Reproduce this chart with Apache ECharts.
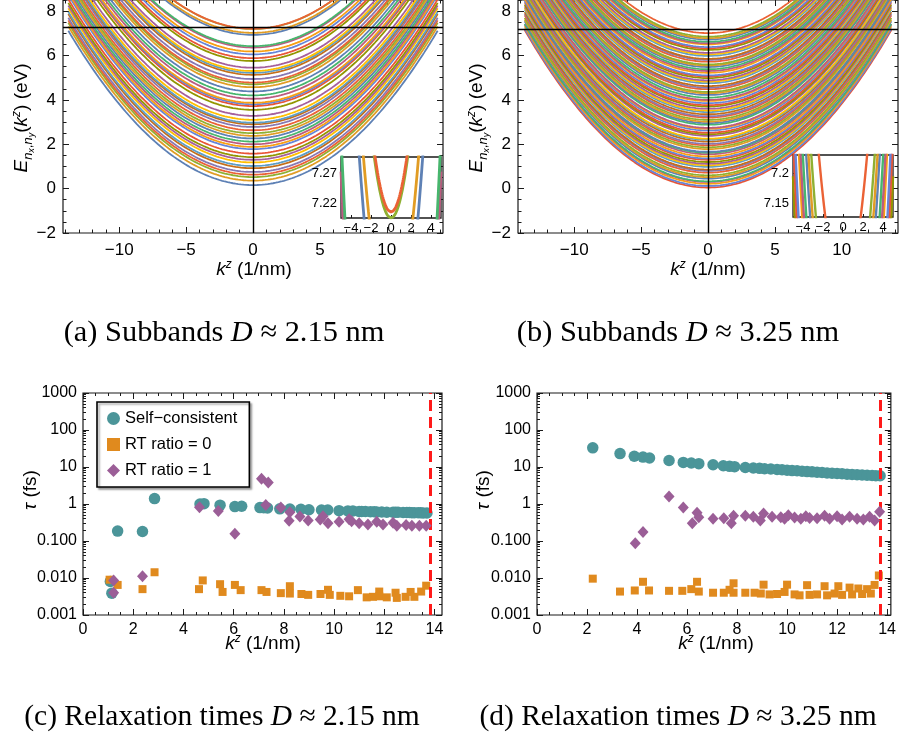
<!DOCTYPE html>
<html>
<head>
<meta charset="utf-8">
<script src="https://cdn.jsdelivr.net/npm/echarts@6/dist/echarts.min.js"></script>
<style>
  html, body { margin: 0; padding: 0; background: #fff; }
  #chart { width: 899px; height: 740px; }
</style>
</head>
<body>
<div id="chart"></div>
<script>
// ---------- subband data (panels a, b) ----------
// band minima E(k=0) in eV
const bandMinA = [0.16, 0.36, 0.52, 0.63, 0.75, 0.92, 1.02, 1.18, 1.30, 1.42, 1.58, 1.78, 1.88, 2.00,
  2.12, 2.26, 2.38, 2.50, 2.63, 2.78, 2.90, 2.97, 3.10, 3.28, 3.55, 3.72, 3.80, 3.87, 4.05, 4.20,
  4.38, 4.57, 4.70, 4.78, 4.94, 5.13, 5.22, 5.30, 5.45, 5.75, 5.88, 6.05, 6.18, 6.36, 6.42, 6.93,
  7.02, 7.195, 7.205];
const bandMinB = [0.05, 0.12, 0.22, 0.30, 0.33, 0.45, 0.52, 0.60, 0.72, 0.80, 0.86, 0.98, 1.05, 1.12,
  1.20, 1.30, 1.36, 1.45, 1.55, 1.62, 1.66, 1.78, 1.86, 1.95, 2.02, 2.12, 2.20, 2.25, 2.38, 2.45,
  2.52, 2.62, 2.70, 2.74, 2.88, 2.95, 3.02, 3.10, 3.20, 3.26, 3.35, 3.45, 3.52, 3.60, 3.70, 3.76,
  3.85, 3.95, 4.00, 4.10, 4.22, 4.30, 4.36, 4.48, 4.55, 4.62, 4.75, 4.82, 4.88, 4.98, 5.05, 5.10,
  5.22, 5.30, 5.38, 5.48, 5.55, 5.60, 5.72, 5.80, 5.85, 5.98, 6.05, 6.12, 6.25, 6.32, 6.38, 6.50,
  6.55, 6.62, 6.72, 6.78, 6.85, 7.01];
// dispersion coefficient hbar^2/2m* (eV nm^2) and zone edge (1/nm)
const dispA = 0.0365, dispB = 0.0378;
const kEdgeA = 13.8, kEdgeB = 13.7;
const fermiA = 7.245, fermiB = 7.178;

const kTicksMain = [-10, -5, 0, 5, 10];
const kMinorMain = [-14, -13, -12, -11, -9, -8, -7, -6, -4, -3, -2, -1, 1, 2, 3, 4, 6, 7, 8, 9, 11, 12, 13, 14];
const eTicksMain = [-2, 0, 2, 4, 6, 8];
const eMinorMain = [-1.5, -1, -0.5, 0.5, 1, 1.5, 2.5, 3, 3.5, 4.5, 5, 5.5, 6.5, 7, 7.5, 8.5];
const kTicksInset = [-4, -2, 0, 2, 4];
const eTicksInsetA = [7.22, 7.27];
const eTicksInsetB = [7.15, 7.2];

// ---------- relaxation-time data (panels c, d): [k^z (1/nm), tau (fs)] ----------
const selfC = [[1.09,0.0081],[1.15,0.0039],[1.38,0.185],[2.37,0.18],[2.85,1.4],[4.66,1.0],[4.82,1.02],
  [5.46,0.93],[6.05,0.85],[6.32,0.87],[7.05,0.8],[7.2,0.79],[7.35,0.78],[7.84,0.74],[8.24,0.73],
  [8.68,0.72],[9.0,0.7],[9.5,0.69],[9.75,0.69],[10.2,0.66],[10.55,0.65],[10.75,0.65],[11.0,0.63],
  [11.1,0.63],[11.25,0.63],[11.45,0.62],[11.6,0.62],[11.7,0.61],[11.9,0.61],[12.1,0.6],[12.35,0.6],
  [12.45,0.6],[12.55,0.6],[12.75,0.59],[12.9,0.59],[13.0,0.59],[13.1,0.58],[13.2,0.58],[13.35,0.58],
  [13.45,0.58],[13.55,0.57],[13.7,0.57]];
const rt0C = [[1.06,0.009],[1.38,0.0065],[2.37,0.005],[2.85,0.0143],[4.62,0.005],[4.77,0.0086],
  [5.46,0.0068],[5.56,0.0042],[6.05,0.0065],[6.28,0.0047],[7.11,0.0047],[7.31,0.0042],[7.88,0.0039],
  [8.24,0.006],[8.24,0.0038],[8.7,0.0037],[8.97,0.0035],[9.46,0.0037],[9.76,0.0048],[9.83,0.0035],
  [10.25,0.0033],[10.6,0.0032],[10.95,0.0047],[11.3,0.003],[11.55,0.0031],[11.8,0.0043],[11.8,0.0032],
  [12.1,0.003],[12.45,0.004],[12.5,0.0029],[12.85,0.0031],[13.05,0.0042],[13.2,0.0031],[13.47,0.0043],
  [13.67,0.0062]];
const rt1C = [[1.22,0.0085],[1.22,0.004],[2.37,0.0112],[4.64,0.82],[5.39,0.65],[6.05,0.158],[7.11,4.8],
  [7.38,3.8],[7.28,0.94],[7.88,0.8],[8.24,0.6],[8.21,0.35],[8.64,0.46],[8.97,0.36],[9.45,0.38],
  [9.56,0.47],[9.76,0.3],[10.2,0.33],[10.6,0.39],[10.7,0.34],[11.0,0.3],[11.35,0.28],[11.7,0.33],
  [11.95,0.28],[12.35,0.31],[12.5,0.26],[12.87,0.27],[13.1,0.26],[13.4,0.26],[13.67,0.26]];

const selfD = [[2.23,33],[3.32,23],[3.89,19.5],[4.24,18.5],[4.5,17.5],[5.28,15],[5.85,13.3],[6.17,12.8],
  [6.47,12.3],[7.04,11.5],[7.45,10.8],[7.7,10.4],[7.9,10.2],[8.33,9.7],[8.65,9.4],[8.9,9.2],[9.1,9.0],
  [9.35,8.8],[9.6,8.6],[9.8,8.4],[10.0,8.2],[10.2,8.0],[10.4,7.9],[10.6,7.7],[10.8,7.5],[11.0,7.4],
  [11.2,7.2],[11.4,7.1],[11.6,6.9],[11.8,6.8],[12.0,6.7],[12.2,6.6],[12.4,6.4],[12.6,6.3],[12.8,6.2],
  [13.0,6.1],[13.2,6.0],[13.4,5.9],[13.55,5.8],[13.72,5.8]];
const rt0D = [[2.23,0.0096],[3.32,0.0043],[3.91,0.0046],[4.24,0.0079],[4.48,0.0046],[5.28,0.0045],
  [5.81,0.0045],[6.17,0.005],[6.4,0.0079],[6.47,0.0043],[7.04,0.004],[7.47,0.004],[7.7,0.0048],
  [7.86,0.0072],[7.86,0.004],[8.33,0.004],[8.7,0.004],[8.95,0.0038],[9.06,0.0066],[9.3,0.0036],
  [9.6,0.0037],[9.9,0.0042],[10.0,0.0066],[10.3,0.0036],[10.5,0.0034],[10.8,0.0064],[10.9,0.0035],
  [11.2,0.0036],[11.5,0.006],[11.6,0.0034],[11.9,0.0038],[12.05,0.006],[12.2,0.0035],[12.5,0.0055],
  [12.6,0.0036],[12.85,0.0052],[13.0,0.0037],[13.2,0.005],[13.35,0.0038],[13.5,0.0065],[13.67,0.0117]];
const rt1D = [[3.93,0.087],[4.24,0.176],[5.28,1.6],[5.85,0.8],[6.21,0.3],[6.4,0.58],[6.47,0.44],
  [7.04,0.4],[7.47,0.41],[7.77,0.3],[7.86,0.48],[8.33,0.48],[8.65,0.45],[8.93,0.36],[9.06,0.55],
  [9.4,0.45],[9.75,0.44],[9.9,0.4],[10.05,0.5],[10.3,0.43],[10.55,0.4],[10.75,0.47],[10.9,0.42],
  [11.2,0.41],[11.5,0.48],[11.7,0.4],[12.0,0.47],[12.2,0.38],[12.5,0.45],[12.8,0.4],[13.05,0.38],
  [13.3,0.45],[13.5,0.36],[13.7,0.62]];
const zoneEdgeC = 13.82, zoneEdgeD = 13.74;

const kTicksTau = [0, 2, 4, 6, 8, 10, 12, 14];
const kMinorTau = [0.5, 1, 1.5, 2.5, 3, 3.5, 4.5, 5, 5.5, 6.5, 7, 7.5, 8.5, 9, 9.5, 10.5, 11, 11.5, 12.5, 13, 13.5];
const tauTicks = [0.001, 0.01, 0.1, 1, 10, 100, 1000];
const tauTickLabels = ['0.001', '0.010', '0.100', '1', '10', '100', '1000'];
const tauMinorSteps = [2, 3, 4, 5, 6, 7, 8, 9];
const seriesNames = ['Self\u2212consistent', 'RT ratio = 0', 'RT ratio = 1'];

// ---------- styling ----------
const palette = ['#5E81B5', '#E19C24', '#8FB032', '#EB6235', '#8778B3', '#C56E1A', '#5D9EC7', '#FFBF00',
  '#A5609D', '#929600', '#E95536', '#6685D9', '#F89F13', '#BC5B80', '#47B66D'];
const SANS = '"Liberation Sans", Arial, sans-serif';
const SERIF = '"Liberation Serif", "Times New Roman", serif';
const FRAME = '#1a1a1a';
const teal = '#4B9599', orange = '#E08A1E', purple = '#9B5E97';

// minor ticks of the log axis: 2..9 within every decade
const tauMinor = [];
tauTicks.slice(0, -1).forEach(d => tauMinorSteps.forEach(m => tauMinor.push(+(d * m).toPrecision(3))));

const chart = echarts.init(document.getElementById('chart'), null, { renderer: 'canvas' });

const grids = [];
const xAxes = [];
const yAxes = [];
const series = [];

const fmtMinus = v => String(v).replace('-', '\u2212');

// frame grid + tick axes (major with labels, minor, mirrored on the opposite side)
function addPanel(cfg) {
  const gi = grids.length;
  grids.push({
    left: cfg.left, top: cfg.top, width: cfg.width, height: cfg.height,
    show: true, backgroundColor: '#fff', borderColor: FRAME, borderWidth: cfg.frameWidth || 1.2,
    z: cfg.z || 0
  });
  const z = (cfg.z || 0) + 1;
  const xi = xAxes.length, yi = yAxes.length;
  const base = (dim, pos, ticks, len, labels) => {
    const ax = dim === 'x' ? cfg.x : cfg.y;
    const o = {
      gridIndex: gi, type: ax.type || 'value', min: ax.min, max: ax.max, position: pos, z: z,
      axisLine: { show: false, onZero: false }, splitLine: { show: false },
      axisTick: { show: true, inside: true, length: len, customValues: ticks, lineStyle: { color: FRAME, width: 1 } },
      axisLabel: { show: false, customValues: ticks },
      animation: false
    };
    if (ax.type === 'log') o.logBase = 10;
    if (labels) {
      o.axisLabel = {
        show: true, customValues: ticks, color: '#000', fontFamily: SANS, fontSize: ax.fontSize,
        margin: ax.margin, formatter: ax.formatter || fmtMinus
      };
    }
    return o;
  };
  xAxes.push(base('x', 'bottom', cfg.x.ticks, cfg.majorLen, true));
  yAxes.push(base('y', 'left', cfg.y.ticks, cfg.majorLen, true));
  if (cfg.mirror !== false) {
    xAxes.push(base('x', 'top', cfg.x.ticks, cfg.majorLen, false));
    yAxes.push(base('y', 'right', cfg.y.ticks, cfg.majorLen, false));
  }
  if (cfg.x.minor) {
    xAxes.push(base('x', 'bottom', cfg.x.minor, cfg.minorLen, false));
    xAxes.push(base('x', 'top', cfg.x.minor, cfg.minorLen, false));
  }
  if (cfg.y.minor) {
    yAxes.push(base('y', 'left', cfg.y.minor, cfg.minorLen, false));
    yAxes.push(base('y', 'right', cfg.y.minor, cfg.minorLen, false));
  }
  return { xi, yi };
}

function parabola(e0, c, kmax, step) {
  const pts = [];
  const n = Math.round(2 * kmax / step);
  for (let i = 0; i <= n; i++) {
    const k = -kmax + i * step;
    pts.push([k, e0 + c * k * k]);
  }
  return pts;
}

function addBands(ax, mins, c, kmax, step, width, z, filterMin, colorShift) {
  mins.forEach((e0, i) => {
    if (filterMin != null && e0 < filterMin) return;
    series.push({
      type: 'line', xAxisIndex: ax.xi, yAxisIndex: ax.yi, data: parabola(e0, c, kmax, step),
      showSymbol: false, symbol: 'none', silent: true, animation: false, z: z, clip: true,
      lineStyle: { color: palette[(i + (colorShift || 0)) % palette.length], width: width }
    });
  });
}

function addCross(ax, fermi, width, z) {
  series.push({
    type: 'line', xAxisIndex: ax.xi, yAxisIndex: ax.yi, data: [[0, fermi]], showSymbol: false,
    symbol: 'none', silent: true, animation: false, z: z, lineStyle: { opacity: 0 },
    markLine: {
      silent: true, symbol: 'none', animation: false, label: { show: false },
      lineStyle: { color: '#000', width: width, type: 'solid' },
      data: [{ xAxis: 0 }, { yAxis: fermi }]
    }
  });
}

// ----- panels (a) and (b): subbands -----
const mainY = { min: -2, max: 8.5, ticks: eTicksMain, minor: eMinorMain, fontSize: 17, margin: 7 };
const mainX = { min: -14.2, max: 14.2, ticks: kTicksMain, minor: kMinorMain, fontSize: 17, margin: 9 };

const axA = addPanel({ left: 63, top: -1, width: 380, height: 234, x: mainX, y: mainY, majorLen: 6, minorLen: 3.5 });
addBands(axA, bandMinA, dispA, kEdgeA, 0.1, 1.8, 2, null, 0);
addCross(axA, fermiA, 1.4, 3);

const axB = addPanel({ left: 518, top: -1, width: 380, height: 234, x: mainX, y: mainY, majorLen: 6, minorLen: 3.5 });
addBands(axB, bandMinB, dispB, kEdgeB, 0.1, 1.8, 2, null, 10);
addCross(axB, fermiB, 1.4, 3);

// insets near the Fermi level
const insetX = { min: -5, max: 5, ticks: kTicksInset, fontSize: 13, margin: 4 };
const axIA = addPanel({
  left: 341, top: 157, width: 100, height: 61, z: 10, mirror: false, majorLen: 3, frameWidth: 1.3,
  x: insetX, y: { min: 7.195, max: 7.297, ticks: eTicksInsetA, fontSize: 13, margin: 4 }
});
addBands(axIA, bandMinA, dispA, 5, 0.02, 2.8, 12, 5.5, 0);
addCross(axIA, fermiA, 1.2, 13);

const axIB = addPanel({
  left: 793, top: 155, width: 100, height: 62, z: 10, mirror: false, majorLen: 3, frameWidth: 1.3,
  x: insetX, y: { min: 7.128, max: 7.23, ticks: eTicksInsetB, fontSize: 13, margin: 4 }
});
addBands(axIB, bandMinB, dispB, 5, 0.02, 2.4, 12, 5.5, 10);
addCross(axIB, fermiB, 1.2, 13);

// ----- panels (c) and (d): relaxation times -----
const tauY = {
  type: 'log', min: 0.001, max: 1000, ticks: tauTicks, minor: tauMinor, fontSize: 16, margin: 6,
  formatter: v => tauTickLabels[tauTicks.findIndex(t => Math.abs(Math.log10(t) - Math.log10(v)) < 1e-6)]
};
const axC = addPanel({
  left: 83, top: 393, width: 359, height: 222, majorLen: 6, minorLen: 3,
  x: { min: 0, max: 14.3, ticks: kTicksTau, minor: kMinorTau, fontSize: 16, margin: 7 }, y: tauY
});
const axD = addPanel({
  left: 537, top: 393, width: 356, height: 222, majorLen: 6, minorLen: 3,
  x: { min: 0, max: 14.15, ticks: kTicksTau, minor: kMinorTau, fontSize: 16, margin: 7 }, y: tauY
});

function addTau(ax, self, rt0, rt1, edge) {
  series.push({
    name: seriesNames[0], type: 'scatter', xAxisIndex: ax.xi, yAxisIndex: ax.yi, data: self,
    symbol: 'circle', symbolSize: 11.5, itemStyle: { color: teal, opacity: 1 }, z: 3, silent: true, animation: false
  });
  series.push({
    name: seriesNames[1], type: 'scatter', xAxisIndex: ax.xi, yAxisIndex: ax.yi, data: rt0,
    symbol: 'rect', symbolSize: 8, itemStyle: { color: orange, opacity: 1 }, z: 4, silent: true, animation: false
  });
  series.push({
    name: seriesNames[2], type: 'scatter', xAxisIndex: ax.xi, yAxisIndex: ax.yi, data: rt1,
    symbol: 'diamond', symbolSize: [11, 12], itemStyle: { color: purple, opacity: 1 }, z: 5, silent: true, animation: false,
    markLine: {
      silent: true, symbol: 'none', animation: false, label: { show: false },
      lineStyle: { color: '#FF1A1A', width: 3, type: [11, 6] },
      data: [{ xAxis: edge }]
    }
  });
}
addTau(axC, selfC, rt0C, rt1C, zoneEdgeC);
addTau(axD, selfD, rt0D, rt1D, zoneEdgeD);

// ---------- titles and captions ----------
// token boxes share a bottom edge; smaller boxes sit lower (subscripts), top-aligned ones sit higher
const tok = (size, h, va, italic) => ({
  fontFamily: SANS, fontSize: size, fontStyle: italic ? 'italic' : 'normal',
  height: h, lineHeight: h, verticalAlign: va, color: '#000'
});
const richSans = {
  m: tok(19, 20, 'bottom', false),
  mi: tok(19, 20, 'bottom', true),
  s: tok(13, 8, 'bottom', true),
  sc: tok(13, 8, 'bottom', false),
  ss: tok(9, 2, 'bottom', true),
  sup: tok(12, 10, 'top', true)
};
const energyTitle = '{mi|E}{s|n}{ss|x}{sc|,}{s|n}{ss|y}{m|(}{mi|k}{sup|z}{m|) (eV)}';
const kTitle = '{mi|k}{sup|z}{m| (1/nm)}';
const tauTitle = '{mi|\u03C4}{m| (fs)}';

const serifTok = (size, italic) => ({
  fontFamily: SERIF, fontSize: size, fontStyle: italic ? 'italic' : 'normal', color: '#000'
});
const richSerifTop = { r: serifTok(30.4, false), i: serifTok(30.4, true) };
const richSerifBottom = { r: serifTok(29.5, false), i: serifTok(29.5, true) };

function txt(x, y, text, rich, rotate) {
  return {
    type: 'text', x: x, y: y, rotation: rotate ? Math.PI / 2 : 0, silent: true, z: 50,
    style: { text: text, rich: rich, align: 'center', verticalAlign: 'middle' }
  };
}

const graphics = [
  txt(22, 118, energyTitle, richSans, true),
  txt(477, 118, energyTitle, richSans, true),
  txt(254, 270, kTitle, richSans),
  txt(708, 270, kTitle, richSans),
  txt(31, 490, tauTitle, richSans, true),
  txt(484, 490, tauTitle, richSans, true),
  txt(263, 644, kTitle, richSans),
  txt(716, 644, kTitle, richSans),
  txt(224, 333, '{r|(a) Subbands }{i|D}{r| \u2248 2.15 nm}', richSerifTop),
  txt(678, 333, '{r|(b) Subbands }{i|D}{r| \u2248 3.25 nm}', richSerifTop),
  txt(222, 717, '{r|(c) Relaxation times }{i|D}{r| \u2248 2.15 nm}', richSerifBottom),
  txt(678, 717, '{r|(d) Relaxation times }{i|D}{r| \u2248 3.25 nm}', richSerifBottom)
];

chart.setOption({
  animation: false,
  backgroundColor: '#fff',
  grid: grids,
  xAxis: xAxes,
  yAxis: yAxes,
  series: series,
  legend: {
    data: seriesNames, orient: 'vertical', left: 97, top: 402, selectedMode: false,
    itemGap: 9, itemWidth: 13, itemHeight: 13,
    padding: [8, 12, 8, 10], backgroundColor: '#fff',
    borderColor: '#000', borderWidth: 1.6,
    shadowColor: 'rgba(0,0,0,0.35)', shadowBlur: 2, shadowOffsetX: 2, shadowOffsetY: 2,
    textStyle: { fontFamily: SANS, fontSize: 16.5, color: '#000' }, z: 20
  },
  graphic: graphics
});
</script>
</body>
</html>
